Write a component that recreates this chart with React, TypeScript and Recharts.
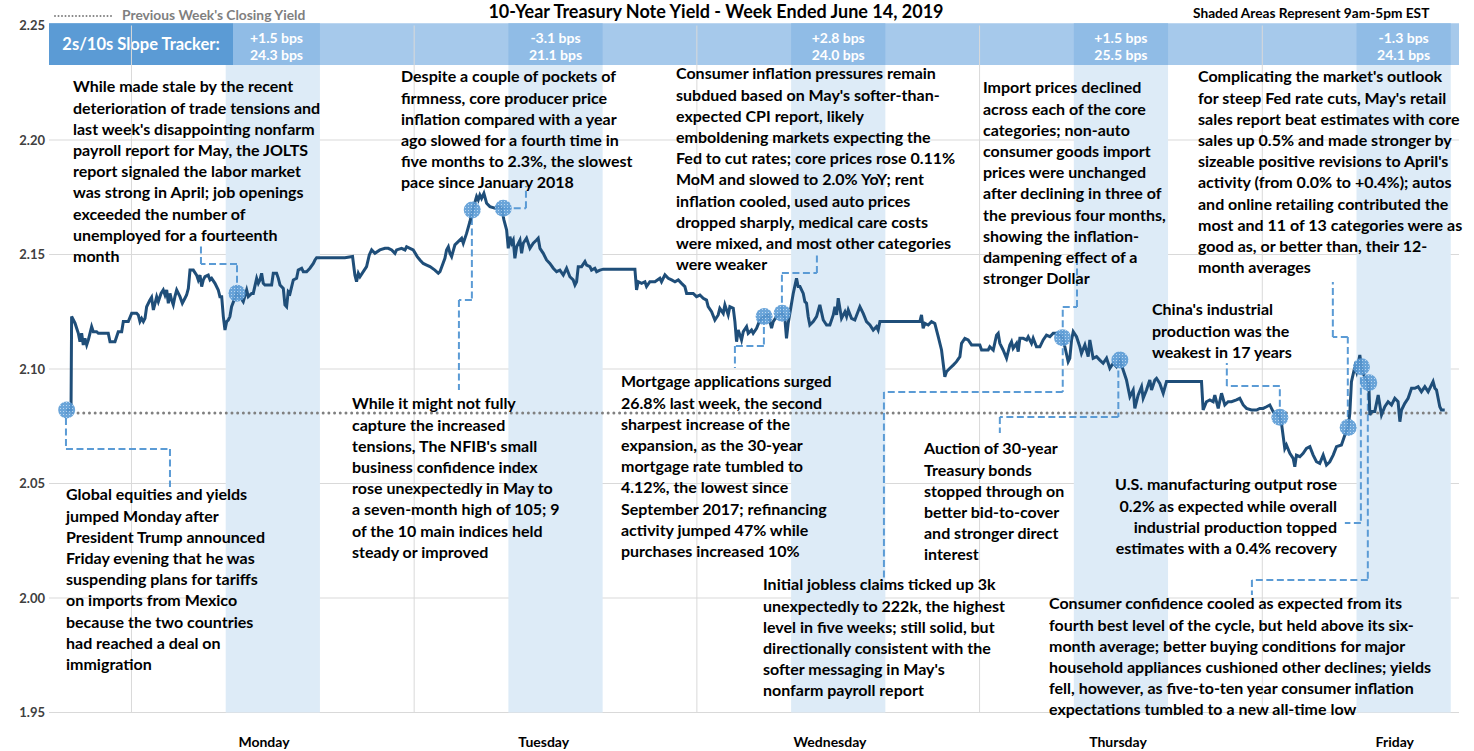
import React from "react";
import {
  ComposedChart,
  Line,
  Scatter,
  XAxis,
  YAxis,
  CartesianGrid,
  ReferenceArea,
  ReferenceLine,
} from "recharts";

// hours are counted from Monday 00:00 ET, values are 10y yields in %
const monday: [number, number][] = [
  [-4.5, 2.0821], [-4.13, 2.0821], [-4.08, 2.1229], [-3.79, 2.12], [-3.51, 2.1156], [-3.37, 2.1119],
  [-3.23, 2.1156], [-3.09, 2.1105], [-2.95, 2.1134], [-2.8, 2.1105], [-2.66, 2.1127], [-2.38, 2.1185],
  [-2.24, 2.1163], [-1.96, 2.1163], [-1.81, 2.1156], [-0.97, 2.1156], [-0.82, 2.1119], [-0.4, 2.1119],
  [-0.26, 2.1141], [-0.12, 2.1163], [0.17, 2.1163], [0.31, 2.1207], [0.73, 2.1207], [1.02, 2.1243],
  [1.44, 2.1243], [1.58, 2.1236], [1.72, 2.1207], [1.86, 2.1221], [2.01, 2.1207], [2.15, 2.1221],
  [2.29, 2.1272], [2.57, 2.1301], [2.71, 2.1313], [2.86, 2.1258], [3.0, 2.1287], [3.14, 2.1316],
  [3.28, 2.1294], [3.51, 2.133], [3.7, 2.1345], [3.85, 2.1323], [3.99, 2.1345], [4.13, 2.1287],
  [4.27, 2.133], [4.41, 2.1301], [4.55, 2.128], [4.69, 2.1316], [4.84, 2.1345], [5.12, 2.1316],
  [5.32, 2.1287], [5.54, 2.1309], [5.68, 2.1323], [5.83, 2.1352], [5.97, 2.1432], [6.25, 2.1432],
  [6.53, 2.141], [6.67, 2.1389], [6.82, 2.141], [6.96, 2.136], [7.1, 2.1389], [7.24, 2.1403],
  [7.52, 2.141], [7.67, 2.1389], [7.81, 2.1396], [8.09, 2.1374], [8.37, 2.1345], [8.51, 2.1316],
  [8.66, 2.1316], [8.8, 2.1229], [8.94, 2.117], [9.08, 2.1207], [9.22, 2.1214], [9.36, 2.1229],
  [9.5, 2.1272], [9.93, 2.133], [10.21, 2.1316], [10.49, 2.1294], [10.78, 2.1345], [10.92, 2.1316],
  [11.2, 2.133], [11.34, 2.133], [11.63, 2.1396], [11.77, 2.1374], [11.91, 2.1389], [12.05, 2.1418],
  [12.19, 2.1374], [12.33, 2.1367], [12.9, 2.1367], [13.04, 2.1418], [13.32, 2.1418], [13.47, 2.1396],
  [13.61, 2.1367], [13.89, 2.1352], [14.03, 2.128], [14.17, 2.1272], [14.31, 2.1338], [14.46, 2.133],
  [14.74, 2.1389], [15.02, 2.1396], [15.16, 2.1432], [15.45, 2.144], [15.59, 2.1425], [15.87, 2.1425],
  [16.15, 2.144], [16.44, 2.1461], [16.58, 2.1476], [16.72, 2.1486], [19.12, 2.1486],
];

const tuesday: [number, number][] = [
  [19.77, 2.1491], [19.97, 2.141], [20.11, 2.1381], [20.26, 2.1418], [20.4, 2.1403], [20.68, 2.1425],
  [20.96, 2.1447], [21.19, 2.1498], [21.39, 2.152], [21.67, 2.1505], [22.09, 2.152], [22.52, 2.1527],
  [22.8, 2.1527], [23.09, 2.152], [23.37, 2.1505], [23.51, 2.152], [23.93, 2.1527], [24.22, 2.152],
  [24.36, 2.1534], [24.64, 2.1527], [24.92, 2.152], [25.26, 2.1491], [25.49, 2.1476], [25.77, 2.1461],
  [26.06, 2.1454], [26.34, 2.1447], [26.76, 2.1432], [27.05, 2.1418], [27.19, 2.1425], [27.61, 2.1483],
  [27.75, 2.152], [27.9, 2.1534], [28.04, 2.1505], [28.18, 2.1491], [28.46, 2.1542], [28.74, 2.1556],
  [29.03, 2.1571], [29.17, 2.1549], [29.45, 2.1592], [29.73, 2.1643], [29.93, 2.1687], [30.3, 2.1753],
  [30.44, 2.1738], [30.58, 2.176], [30.72, 2.1745], [30.92, 2.1767], [31.15, 2.1724], [31.43, 2.1709],
  [31.86, 2.1702], [32.14, 2.1709], [32.42, 2.1702], [32.62, 2.1651], [32.85, 2.1607], [32.99, 2.1527],
  [33.13, 2.1578], [33.27, 2.1549], [33.41, 2.1563], [33.55, 2.1483], [33.7, 2.1534], [33.98, 2.1563],
  [34.12, 2.1505], [34.26, 2.1549], [34.54, 2.1571], [34.83, 2.1527], [35.11, 2.1549], [35.39, 2.1563],
  [35.53, 2.1571], [35.68, 2.1527], [35.96, 2.1505], [36.24, 2.1476], [36.52, 2.1461], [36.81, 2.144],
  [37.09, 2.1425], [37.37, 2.1432], [37.66, 2.141], [37.94, 2.144], [38.22, 2.1403], [38.5, 2.1389],
  [38.65, 2.1367], [38.79, 2.1381], [38.93, 2.1447], [39.21, 2.1447], [39.5, 2.1469], [39.64, 2.1454],
  [39.92, 2.1447], [40.06, 2.1432], [40.34, 2.144], [40.49, 2.1425], [40.77, 2.1432], [41.05, 2.1436],
  [42.47, 2.1436],
];

const wednesday: [number, number][] = [
  [43.74, 2.1436], [43.88, 2.1345], [44.02, 2.1381], [44.31, 2.1374], [44.59, 2.1381], [44.73, 2.136],
  [45.01, 2.1381], [45.44, 2.1381], [45.86, 2.1396], [46.0, 2.1381], [46.29, 2.1411], [46.57, 2.1396],
  [46.85, 2.1389], [47.14, 2.1381], [47.42, 2.1389], [47.7, 2.1374], [47.98, 2.136], [48.13, 2.133],
  [48.69, 2.133], [48.97, 2.1316], [49.26, 2.1323], [49.54, 2.1309], [49.82, 2.1301], [49.96, 2.1272],
  [50.25, 2.125], [50.53, 2.1214], [50.81, 2.1236], [50.95, 2.1265], [51.24, 2.1243], [51.38, 2.128],
  [51.66, 2.1236], [51.8, 2.1272], [52.09, 2.1265], [52.23, 2.1207], [52.37, 2.1119], [52.51, 2.117],
  [52.65, 2.1149], [52.79, 2.1127], [52.94, 2.1163], [53.22, 2.1185], [53.36, 2.1156], [53.64, 2.117],
  [53.78, 2.1156], [54.07, 2.1178], [54.35, 2.1214], [54.72, 2.1229], [55.06, 2.1236], [55.34, 2.1178],
  [55.48, 2.1207], [55.76, 2.1229], [56.25, 2.1243], [56.47, 2.1221], [56.61, 2.1134], [56.75, 2.1199],
  [57.04, 2.1287], [57.18, 2.133], [57.46, 2.1396], [57.6, 2.136], [57.75, 2.136], [58.03, 2.133],
  [58.17, 2.1294], [58.31, 2.1287], [58.45, 2.1229], [58.59, 2.1192], [58.88, 2.1207], [59.16, 2.1229],
  [59.44, 2.128], [59.73, 2.1214], [60.01, 2.1192], [60.29, 2.1192], [60.58, 2.1236], [60.72, 2.1272],
  [60.86, 2.1236], [61.0, 2.1309], [61.14, 2.1265], [61.28, 2.1221], [61.57, 2.125], [61.71, 2.1229],
  [61.85, 2.1258], [62.13, 2.1221], [62.41, 2.1214], [62.84, 2.1272], [63.12, 2.1243], [63.4, 2.1207],
  [63.69, 2.1192], [63.97, 2.117], [64.25, 2.1185], [64.39, 2.117], [64.54, 2.1207], [66.23, 2.1207],
];

const thursday: [number, number][] = [
  [67.93, 2.1207], [68.07, 2.1236], [68.21, 2.1178], [68.36, 2.1199], [68.64, 2.1192], [68.92, 2.1207],
  [69.2, 2.1199], [69.49, 2.1141], [69.77, 2.1083], [70.05, 2.0966], [70.19, 2.0988], [70.48, 2.1003],
  [70.76, 2.1017], [71.04, 2.1032], [71.33, 2.1054], [71.47, 2.1112], [71.75, 2.1134], [72.03, 2.1127],
  [72.32, 2.1105], [73.02, 2.1105], [73.17, 2.1083], [73.73, 2.1083], [73.87, 2.1097], [74.16, 2.1083],
  [74.44, 2.1148], [74.58, 2.1156], [74.72, 2.1112], [75.0, 2.1083], [75.29, 2.1047], [75.57, 2.1105],
  [75.71, 2.1119], [75.85, 2.109], [76.14, 2.1112], [76.28, 2.1076], [76.42, 2.1134], [76.7, 2.1134],
  [76.99, 2.1127], [77.13, 2.1141], [77.41, 2.1112], [77.55, 2.1134], [77.83, 2.1097], [78.12, 2.1097],
  [78.4, 2.1127], [78.68, 2.1148], [78.97, 2.1141], [79.25, 2.1156], [79.53, 2.1156], [80.04, 2.1137],
  [80.24, 2.1097], [80.52, 2.1032], [80.66, 2.1047], [80.81, 2.1127], [80.95, 2.1163], [81.23, 2.1141],
  [81.51, 2.1097], [81.65, 2.1068], [81.94, 2.1105], [82.22, 2.1054], [82.36, 2.1127], [82.64, 2.1047],
  [82.93, 2.1054], [83.21, 2.1039], [83.49, 2.1025], [83.78, 2.1047], [84.06, 2.1003], [84.34, 2.1025],
  [84.62, 2.101], [84.91, 2.1039], [85.19, 2.0996], [85.47, 2.0952], [85.76, 2.0879], [86.04, 2.0908],
  [86.18, 2.0828], [86.46, 2.0886], [86.75, 2.0923], [86.89, 2.0872], [87.17, 2.0908], [87.45, 2.0952],
  [87.6, 2.0908], [87.88, 2.0952], [88.02, 2.0959], [88.3, 2.0937], [88.59, 2.0894], [88.87, 2.0945],
  [91.84, 2.0945],
];

const friday: [number, number][] = [
  [91.98, 2.0821], [92.26, 2.0857], [92.55, 2.0865], [92.83, 2.0857], [92.97, 2.0886], [93.26, 2.0828],
  [93.54, 2.0894], [93.82, 2.0843], [94.1, 2.0857], [94.39, 2.0857], [94.81, 2.0865], [95.09, 2.0872],
  [95.38, 2.0843], [95.66, 2.0828], [96.08, 2.0821], [96.51, 2.0821], [96.79, 2.0828], [97.07, 2.0828],
  [97.36, 2.0835], [97.64, 2.0843], [97.92, 2.0814], [98.21, 2.0806], [98.49, 2.0789], [98.63, 2.0763],
  [98.91, 2.0653], [99.05, 2.0668], [99.34, 2.0632], [99.62, 2.061], [99.76, 2.0573], [99.9, 2.0624],
  [100.19, 2.0617], [100.47, 2.0632], [100.75, 2.0653], [101.04, 2.0661], [101.32, 2.0624], [101.6, 2.0595],
  [101.88, 2.0588], [102.17, 2.0624], [102.45, 2.0581], [102.73, 2.0595], [103.02, 2.0624], [103.3, 2.0661],
  [103.72, 2.0668], [104.01, 2.0712], [104.29, 2.0745], [104.43, 2.0806], [104.57, 2.0945], [104.86, 2.101],
  [105.0, 2.0988], [105.28, 2.1061], [105.42, 2.101], [105.56, 2.0981], [105.85, 2.0952], [106.04, 2.094],
  [106.13, 2.0799], [106.27, 2.0814], [106.55, 2.0814], [106.84, 2.0886], [107.12, 2.0799], [107.4, 2.0835],
  [107.68, 2.0857], [107.97, 2.0843], [108.25, 2.0872], [108.53, 2.0857], [108.68, 2.077], [108.82, 2.0821],
  [109.1, 2.085], [109.38, 2.0872], [109.67, 2.0916], [109.95, 2.0916], [110.23, 2.0923], [110.51, 2.0901],
  [110.8, 2.0923], [111.08, 2.0901], [111.36, 2.093], [111.5, 2.0945], [111.65, 2.0916], [111.79, 2.0908],
  [112.07, 2.0835], [112.21, 2.0821], [112.49, 2.0821],
];

// data release markers
const eventHours = [-4.5, 9.96, 29.93, 32.56, 54.71, 56.24, 80.04, 84.91, 98.49, 104.29, 105.42, 106.04];
const eventYields = [2.0821, 2.1331, 2.1694, 2.1702, 2.1229, 2.1243, 2.1137, 2.1039, 2.0789, 2.0745, 2.101, 2.094];

const prevClose = 2.0808;
const dayNames = ["Monday", "Tuesday", "Wednesday", "Thursday", "Friday"];
const dayLabelHours = [12.25, 36, 60.3, 84.75, 108.25];
const sessionStart = [9, 33, 57, 81, 105];
const sessionEnd = [17, 41, 65, 89, 113];
const gridHours = [1, 25, 49, 73, 97];
const yTicks = [1.95, 2.0, 2.05, 2.1, 2.15, 2.2, 2.25];
const slopeChange = ["+1.5 bps", "-3.1 bps", "+2.8 bps", "+1.5 bps", "-1.3 bps"];
const slopeLevel = ["24.3 bps", "21.1 bps", "24.0 bps", "25.5 bps", "24.1 bps"];

// elbow callouts from the markers to the notes, in chart units
const callouts: [number, number][][] = [
  [[-4.56, 2.0786], [-4.56, 2.0651], [4.27, 2.0651], [4.27, 2.0485]],
  [[9.96, 2.1331], [9.96, 2.1459], [6.9, 2.1459], [6.9, 2.155]],
  [[29.9, 2.1659], [29.9, 2.1301], [28.8, 2.1301], [28.8, 2.0908]],
  [[32.56, 2.1702], [34.49, 2.1702], [34.49, 2.1799]],
  [[54.69, 2.1229], [54.69, 2.11], [52.23, 2.11], [52.23, 2.1004]],
  [[56.22, 2.1243], [56.22, 2.1419], [59.19, 2.1419], [59.19, 2.1511]],
  [[80.06, 2.1137], [80.06, 2.1271], [81.27, 2.1271], [81.27, 2.1498]],
  [[80.06, 2.1137], [80.06, 2.09], [64.88, 2.09], [64.88, 2.0079]],
  [[84.78, 2.1039], [84.78, 2.079], [74.72, 2.079], [74.72, 2.0721]],
  [[98.49, 2.0789], [98.49, 2.0926], [93.99, 2.0926], [93.99, 2.1026]],
  [[104.26, 2.0745], [104.26, 2.114], [102.99, 2.114], [102.99, 2.138]],
  [[105.37, 2.101], [105.37, 2.0327], [104.01, 2.0327]],
  [[105.96, 2.094], [105.96, 2.0079], [96.12, 2.0079], [96.12, 2.0013]],
];

const notes = [
  { left: 73, top: 86, lines: ["While made stale by the recent", "deterioration of trade tensions and", "last week's disappointing nonfarm", "payroll report for May, the JOLTS", "report signaled the labor market", "was strong in April; job openings", "exceeded the number of", "unemployed for a fourteenth", "month"] },
  { left: 401, top: 76, lines: ["Despite a couple of pockets of", "firmness, core producer price", "inflation compared with a year", "ago slowed for a fourth time in", "five months to 2.3%, the slowest", "pace since January 2018"] },
  { left: 676, top: 73, lines: ["Consumer inflation pressures remain", "subdued based on May's softer-than-", "expected CPI report, likely", "emboldening markets expecting the", "Fed to cut rates; core prices rose 0.11%", "MoM and slowed to 2.0% YoY; rent", "inflation cooled, used auto prices", "dropped sharply, medical care costs", "were mixed, and most other categories", "were weaker"] },
  { left: 983, top: 87, lines: ["Import prices declined", "across each of the core", "categories; non-auto", "consumer goods import", "prices were unchanged", "after declining in three of", "the previous four months,", "showing the inflation-", "dampening effect of a", "stronger Dollar"] },
  { left: 1198, top: 76, lines: ["Complicating the market's outlook", "for steep Fed rate cuts, May's retail", "sales report beat estimates with core", "sales up 0.5% and made stronger by", "sizeable positive revisions to April's", "activity (from 0.0% to +0.4%); autos", "and online retailing contributed the", "most and 11 of 13 categories were as", "good as, or better than, their 12-", "month averages"] },
  { left: 1152, top: 309, lines: ["China's industrial", "production was the", "weakest in 17 years"] },
  { left: 66, top: 494, lines: ["Global equities and yields", "jumped Monday after", "President Trump announced", "Friday evening that he was", "suspending plans for tariffs", "on imports from Mexico", "because the two countries", "had reached a deal on", "immigration"] },
  { left: 352, top: 403, lines: ["While it might not fully", "capture the increased", "tensions, The NFIB's small", "business confidence index", "rose unexpectedly in May to", "a seven-month high of 105; 9", "of the 10 main indices held", "steady or improved"] },
  { left: 621, top: 381, lines: ["Mortgage applications surged", "26.8% last week, the second", "sharpest increase of the", "expansion, as the 30-year", "mortgage rate tumbled to", "4.12%, the lowest since", "September 2017; refinancing", "activity jumped 47% while", "purchases increased 10%"] },
  { left: 924, top: 448, lines: ["Auction of 30-year", "Treasury bonds", "stopped through on", "better bid-to-cover", "and stronger direct", "interest"] },
  { right: 1337, top: 484, lines: ["U.S. manufacturing output rose", "0.2% as expected while overall", "industrial production topped", "estimates with a 0.4% recovery"] },
  { left: 763, top: 584, lines: ["Initial jobless claims ticked up 3k", "unexpectedly to 222k, the highest", "level in five weeks; still solid, but", "directionally consistent with the", "softer messaging in May's", "nonfarm payroll report"] },
  { left: 1049, top: 603, lines: ["Consumer confidence cooled as expected from its", "fourth best level of the cycle, but held above its six-", "month average; better buying conditions for major", "household appliances cushioned other declines; yields", "fell, however, as five-to-ten year consumer inflation", "expectations tumbled to a new all-time low"] },
];

const FONT = "Lato, 'Open Sans', sans-serif";
const LINE_H = 21.2;

const lineData = [...monday, ...tuesday, ...wednesday, ...thursday, ...friday].map(([h, v]) => ({ h, v }));
const eventData = eventHours.map((h, i) => ({ h, v: eventYields[i] }));

function EventMarker({ cx, cy }: any) {
  if (cx == null || cy == null) return null;
  return <circle cx={cx} cy={cy} r={8.5} fill="url(#markerGrid)" fillOpacity={0.9} />;
}

function DayTick({ x, y, payload }: any) {
  const i = dayLabelHours.indexOf(payload.value);
  return (
    <text x={x} y={y} dy={32} textAnchor="middle" fontFamily={FONT} fontWeight={700} fontSize={14} fill="#000">
      {dayNames[i]}
    </text>
  );
}

function SlopeLabel({ viewBox, top, bottom }: any) {
  const { x, y, width } = viewBox;
  const cx = x + width / 2;
  return (
    <g fontFamily={FONT} fontWeight={700} fontSize={14} fill="#fff" textAnchor="middle">
      <text x={cx} y={y + 20}>{top}</text>
      <text x={cx} y={y + 37}>{bottom}</text>
    </g>
  );
}

function TrackerTitle({ viewBox }: any) {
  const { x, y, width, height } = viewBox;
  return (
    <text x={x + width / 2} y={y + height / 2} dy={6} textAnchor="middle" fontFamily={FONT} fontWeight={700} fontSize={16.5} fill="#fff">
      2s/10s Slope Tracker:
    </text>
  );
}

export default function App() {
  return (
    <div style={{ position: "absolute", left: 0, top: 0, width: 1474, height: 751, background: "#fff", fontFamily: FONT }}>
      <ComposedChart width={1474} height={751} data={lineData} margin={{ top: 25.5, right: 15, bottom: 8.5, left: 0 }}>
        <defs>
          <pattern id="markerGrid" width="3" height="3" patternUnits="userSpaceOnUse">
            <rect width="3" height="3" fill="#5B9BD5" />
            <rect width="1" height="1" fill="#B4D3F0" />
          </pattern>
        </defs>
        <CartesianGrid vertical={false} stroke="#D9D9D9" />
        <XAxis
          type="number"
          dataKey="h"
          domain={[-6, 113.7]}
          allowDataOverflow
          ticks={dayLabelHours}
          tick={<DayTick />}
          axisLine={false}
          tickLine={false}
          tickSize={0}
          height={30}
        />
        <YAxis
          type="number"
          domain={[1.95, 2.25]}
          allowDataOverflow
          ticks={yTicks}
          width={49}
          axisLine={false}
          tickLine={false}
          tickSize={0}
          tickMargin={4}
          tickFormatter={(v: number) => v.toFixed(2)}
          tick={{ fontFamily: FONT, fontWeight: 700, fontSize: 13, fill: "#404040" }}
        />
        {sessionStart.map((s, i) => (
          <ReferenceArea key={"s" + i} x1={s} x2={sessionEnd[i]} y1={1.95} y2={2.2328} fill="#DDEBF7" fillOpacity={1} strokeWidth={0} />
        ))}
        <ReferenceArea x1={-6} x2={113.7} y1={2.2328} y2={2.251} ifOverflow="visible" fill="#A6C9EB" fillOpacity={1} strokeWidth={0} />
        {sessionStart.map((s, i) => (
          <ReferenceArea
            key={"h" + i}
            x1={i === 0 ? 9.62 : s}
            x2={sessionEnd[i]}
            y1={2.2328}
            y2={2.251}
            ifOverflow="visible"
            fill="#90BCE6"
            fillOpacity={1}
            strokeWidth={0}
            label={<SlopeLabel top={slopeChange[i]} bottom={slopeLevel[i]} />}
          />
        ))}
        <ReferenceArea x1={-6} x2={9.62} y1={2.2328} y2={2.251} ifOverflow="visible" fill="#5B9BD5" fillOpacity={1} strokeWidth={0} label={<TrackerTitle />} />
        {gridHours.map((g) => (
          <ReferenceLine key={"g" + g} x={g} stroke="#D9D9D9" strokeWidth={1} />
        ))}
        <ReferenceLine
          segment={[{ x: -4.5, y: prevClose }, { x: 112.7, y: prevClose }]}
          stroke="#808080"
          strokeWidth={3}
          strokeDasharray="0 5.7"
          strokeLinecap="round"
        />
        {callouts.flatMap((path, ci) =>
          path.slice(1).map((p, si) => (
            <ReferenceLine
              key={`c${ci}-${si}`}
              segment={[{ x: path[si][0], y: path[si][1] }, { x: p[0], y: p[1] }]}
              stroke="#5B9BD5"
              strokeWidth={2}
              strokeDasharray="7 3.5"
            />
          ))
        )}
        <Line type="linear" dataKey="v" stroke="#1F4E79" strokeWidth={3} dot={false} isAnimationActive={false} />
        <Scatter data={eventData} dataKey="v" shape={<EventMarker />} isAnimationActive={false} />
      </ComposedChart>

      <div style={{ position: "absolute", left: 716, top: 0, transform: "translateX(-50%)", fontWeight: 700, fontSize: 18, lineHeight: "22px", color: "#000", whiteSpace: "nowrap" }}>
        10-Year Treasury Note Yield - Week Ended June 14, 2019
      </div>
      <svg style={{ position: "absolute", left: 54, top: 12 }} width={62} height={8}>
        <line x1={1} y1={4} x2={60} y2={4} stroke="#808080" strokeWidth={2} strokeDasharray="0 3.5" strokeLinecap="round" />
      </svg>
      <div style={{ position: "absolute", left: 122, top: 6, fontWeight: 700, fontSize: 13.8, lineHeight: "18px", color: "#7F7F7F", whiteSpace: "nowrap" }}>
        Previous Week's Closing Yield
      </div>
      <div style={{ position: "absolute", left: 1193, top: 4, fontWeight: 700, fontSize: 13.7, lineHeight: "18px", color: "#000", whiteSpace: "nowrap" }}>
        Shaded Areas Represent 9am-5pm EST
      </div>

      {notes.map((n, ni) => (
        <div key={ni}>
          {n.lines.map((ln, li) => (
            <div
              key={li}
              style={{
                position: "absolute",
                top: n.top - LINE_H / 2 + li * LINE_H,
                left: n.left,
                right: n.right != null ? 1474 - n.right : undefined,
                height: LINE_H,
                lineHeight: `${LINE_H}px`,
                fontWeight: 700,
                fontSize: 16,
                color: "#000",
                whiteSpace: "nowrap",
                textAlign: n.right != null ? "right" : "left",
              }}
            >
              {ln}
            </div>
          ))}
        </div>
      ))}
    </div>
  );
}
